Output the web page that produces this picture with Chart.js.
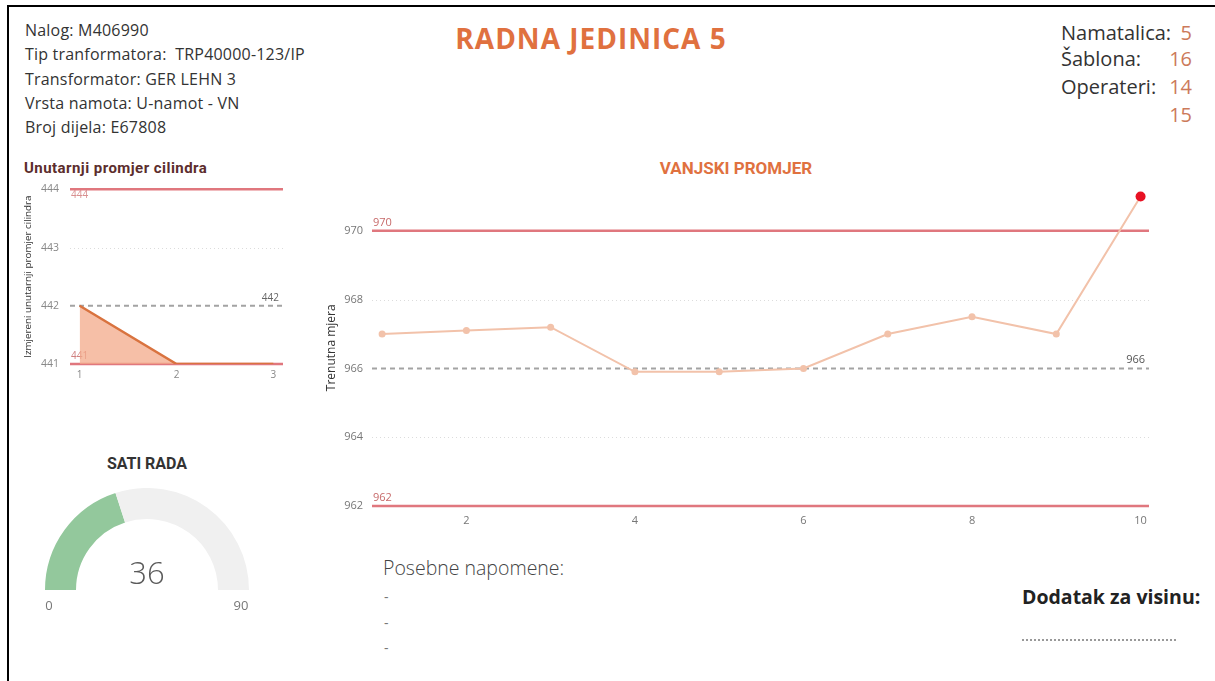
<!DOCTYPE html>
<html>
<head>
<meta charset="utf-8">
<script src="https://cdn.jsdelivr.net/npm/chart.js@4.4.0/dist/chart.umd.min.js"></script>
<style>
  body { margin: 0; width: 1215px; height: 681px; background: #fff; overflow: hidden; position: relative;
         font-family: 'Open Sans', 'Noto Sans', sans-serif; color: #333; }
  .frame { position: absolute; left: 7px; top: 5px; width: 1300px; height: 800px;
           border-left: 2px solid #000; border-top: 2px solid #000; }
  .abs { position: absolute; white-space: pre; }
  canvas { position: absolute; }
  .din { font-family: Roboto, 'DejaVu Sans', sans-serif; font-weight: 700; }
  .info { left: 25px; top: 18px; font-size: 16px; letter-spacing: 0.2px; line-height: 24.3px; color: #333; }
  .meta { font-size: 20px; line-height: 28px; color: #333; }
  .meta.val { right: 23px; text-align: right; color: #cc7a5a; }
</style>
</head>
<body>
<div class="frame"></div>

<div class="abs info">Nalog: M406990
Tip tranformatora:  TRP40000-123/IP
Transformator: GER LEHN 3
Vrsta namota: U-namot - VN
Broj dijela: E67808</div>

<div class="abs" style="left:591px;top:19px;transform:translateX(-50%);font-size:28px;letter-spacing:1px;font-weight:700;color:#e0713f;">RADNA JEDINICA 5</div>

<div class="abs meta" style="left:1061px;top:19px;">Namatalica:</div>
<div class="abs meta" style="left:1061px;top:45px;">Šablona:</div>
<div class="abs meta" style="left:1061px;top:73px;">Operateri:</div>
<div class="abs meta val" style="top:19px;">5</div>
<div class="abs meta val" style="top:45px;">16</div>
<div class="abs meta val" style="top:73px;">14</div>
<div class="abs meta val" style="top:101px;">15</div>

<div class="abs din" style="left:24px;top:159px;font-size:15px;letter-spacing:0.45px;color:#5c2d2d;">Unutarnji promjer cilindra</div>
<div class="abs din" style="left:736px;top:158px;transform:translateX(-50%);font-size:17px;color:#e0713f;">VANJSKI PROMJER</div>
<div class="abs din" style="left:147px;top:454px;transform:translateX(-50%);font-size:16px;color:#333;">SATI RADA</div>

<canvas id="unutarnji" width="271" height="214" style="left:19px;top:172px;"></canvas>
<canvas id="vanjski" width="835" height="356" style="left:320px;top:174px;"></canvas>
<canvas id="sati" width="204" height="102" style="left:45px;top:488px;"></canvas>

<div class="abs" id="satiVal" style="left:147px;top:551px;transform:translateX(-50%);font-size:31px;font-weight:300;color:#5a5a5a;"></div>
<div class="abs" id="satiMin" style="left:49px;top:596px;transform:translateX(-50%);font-size:13px;color:#777;"></div>
<div class="abs" id="satiMaxL" style="left:241px;top:596px;transform:translateX(-50%);font-size:13px;color:#777;"></div>

<div class="abs" style="left:383px;top:554px;font-size:19.5px;font-weight:300;color:#444;">Posebne napomene:</div>
<div class="abs" style="left:384px;top:584px;font-size:14px;line-height:25.5px;color:#777;">-
-
-</div>
<div class="abs" style="left:1022px;top:583px;font-size:19.5px;font-weight:700;color:#222;">Dodatak za visinu:</div>
<div class="abs" style="left:1022px;top:639px;width:154px;border-top:2px dotted #999;"></div>

<script>
// ── Data ──

const vanjskiX = [1, 2, 3, 4, 5, 6, 7, 8, 9, 10];
const vanjskiY = [967.0, 967.1, 967.2, 965.9, 965.9, 966.0, 967.0, 967.5, 967.0, 971.0];
const vanjskiXTicks = [2, 4, 6, 8, 10];
const vanjskiYTicks = [962, 964, 966, 968, 970];
const vanjskiMin = 962, vanjskiMax = 970, vanjskiNominal = 966;

const unutarnjiX = [1, 2, 3];
const unutarnjiY = [442, 441, 441];
const unutarnjiXTicks = [1, 2, 3];
const unutarnjiYTicks = [441, 442, 443, 444];
const unutarnjiMin = 441, unutarnjiMax = 444, unutarnjiNominal = 442;

const satiRada = 36;
const satiUkupno = 90;

// ── Colours ──

const RED_LINE = 'rgba(221,104,112,0.9)';
const RED_TXT = '#c76a6a';
const GRAY_DASH = '#a3a3a3';
const GRID = '#dcdcdc';
const PEACH = '#f2c2aa';
const ALERT = '#e81123';

// ── Reference lines plugin ──

const refLines = {
  id: 'refLines',
  beforeDatasetsDraw(chart, args, opts) {
    const { ctx, chartArea: a, scales: { y } } = chart;
    const taken = (opts.lines || []).map(l => l.value);
    ctx.save();
    // dotted grid for the remaining ticks
    y.ticks.forEach(t => {
      if (taken.includes(t.value)) return;
      const py = Math.round(y.getPixelForValue(t.value)) + 0.5;
      ctx.strokeStyle = GRID; ctx.lineWidth = 1; ctx.setLineDash([1, 3]);
      ctx.beginPath(); ctx.moveTo(a.left, py); ctx.lineTo(a.right, py); ctx.stroke();
    });
    (opts.lines || []).forEach(l => {
      const py = y.getPixelForValue(l.value);
      ctx.strokeStyle = l.color; ctx.lineWidth = l.width; ctx.setLineDash(l.dash || []);
      ctx.beginPath(); ctx.moveTo(a.left, py); ctx.lineTo(a.right, py); ctx.stroke();
      if (!l.label) return;
      ctx.setLineDash([]);
      ctx.font = `${opts.fontSize || 11}px 'Open Sans', sans-serif`;
      ctx.fillStyle = l.labelColor;
      const right = l.label[0] === 'r';
      ctx.textAlign = right ? 'right' : 'left';
      ctx.textBaseline = l.label[1] === 'a' ? 'bottom' : 'top';
      const lx = right ? a.right - 4 : a.left + 1;
      const ly = l.label[1] === 'a' ? py - 3 : py + 1;
      ctx.fillText(String(l.value), lx, ly);
    });
    ctx.restore();
  }
};

const fixTicks = list => scale => { scale.ticks = list.map(value => ({ value })); };
const tickFont = size => ({ family: "'Open Sans', sans-serif", size });

// ── Vanjski promjer ──

new Chart(document.getElementById('vanjski'), {
  type: 'line',
  data: {
    datasets: [{
      data: vanjskiX.map((x, i) => ({ x, y: vanjskiY[i] })),
      borderColor: PEACH,
      borderWidth: 2,
      pointBackgroundColor: vanjskiY.map(v => v > vanjskiMax || v < vanjskiMin ? ALERT : PEACH),
      pointRadius: vanjskiY.map(v => v > vanjskiMax || v < vanjskiMin ? 5 : 3.5),
      pointBorderWidth: 0,
      tension: 0,
    }],
  },
  options: {
    responsive: false, animation: false, events: [],
    layout: { padding: { top: 4, right: 6 } },
    plugins: {
      legend: { display: false }, tooltip: { enabled: false },
      refLines: {
        fontSize: 11,
        lines: [
          { value: vanjskiMax, color: RED_LINE, width: 2.5, label: 'la', labelColor: RED_TXT },
          { value: vanjskiMin, color: RED_LINE, width: 2.5, label: 'la', labelColor: RED_TXT },
          { value: vanjskiNominal, color: GRAY_DASH, width: 2, dash: [5, 4], label: 'ra', labelColor: '#555' },
        ],
      },
    },
    scales: {
      x: {
        type: 'linear', min: 0.88, max: 10.1,
        afterBuildTicks: fixTicks(vanjskiXTicks),
        afterFit: s => { s.height = 24; },
        grid: { display: false, drawTicks: false }, border: { display: false },
        ticks: { color: '#777', padding: 8, maxRotation: 0, font: tickFont(11) },
      },
      y: {
        min: 962, max: 971.2,
        afterBuildTicks: fixTicks(vanjskiYTicks),
        afterFit: s => { s.width = 52; },
        grid: { display: false, drawTicks: false }, border: { display: false },
        ticks: { color: '#777', padding: 9, font: tickFont(11) },
        title: { display: true, text: 'Trenutna mjera', color: '#333', font: tickFont(12) },
      },
    },
  },
  plugins: [refLines],
});

// ── Unutarnji promjer cilindra ──

new Chart(document.getElementById('unutarnji'), {
  type: 'line',
  data: {
    datasets: [{
      data: unutarnjiX.map((x, i) => ({ x, y: unutarnjiY[i] })),
      borderColor: '#d9733f',
      borderWidth: 2.5,
      backgroundColor: 'rgba(243,170,138,0.75)',
      fill: 'start',
      pointRadius: 0,
      tension: 0,
    }],
  },
  options: {
    responsive: false, animation: false, events: [],
    layout: { padding: { top: 6, right: 7 } },
    plugins: {
      legend: { display: false }, tooltip: { enabled: false },
      refLines: {
        fontSize: 10,
        lines: [
          { value: unutarnjiMax, color: RED_LINE, width: 2.5, label: 'lb', labelColor: '#d99090' },
          { value: unutarnjiMin, color: RED_LINE, width: 2.5, label: 'la', labelColor: '#d08080' },
          { value: unutarnjiNominal, color: GRAY_DASH, width: 2, dash: [5, 4], label: 'ra', labelColor: '#666' },
        ],
      },
    },
    scales: {
      x: {
        type: 'linear', min: 0.9, max: 3.1,
        afterBuildTicks: fixTicks(unutarnjiXTicks),
        afterFit: s => { s.height = 22; },
        grid: { display: false, drawTicks: false }, border: { display: false },
        ticks: { color: '#888', padding: 5, maxRotation: 0, font: tickFont(10) },
      },
      y: {
        min: 441, max: 444,
        afterBuildTicks: fixTicks(unutarnjiYTicks),
        afterFit: s => { s.width = 51; },
        grid: { display: false, drawTicks: false }, border: { display: false },
        ticks: { color: '#888', padding: 11, font: tickFont(10.5) },
        title: { display: true, text: 'Izmjereni unutarnji promjer cilindra', color: '#333', font: tickFont(9.8), padding: { top: 3, bottom: 2 } },
      },
    },
  },
  plugins: [refLines],
});

// ── Sati rada (gauge) ──

new Chart(document.getElementById('sati'), {
  type: 'doughnut',
  data: {
    labels: ['Sati rada', 'Preostalo'],
    datasets: [{
      data: [satiRada, satiUkupno - satiRada],
      backgroundColor: ['#93c89c', '#f0f0f0'],
      borderWidth: 0,
    }],
  },
  options: {
    responsive: false, animation: false, events: [],
    rotation: -90, circumference: 180, cutout: '69.6%',
    plugins: { legend: { display: false }, tooltip: { enabled: false } },
  },
});

document.getElementById('satiVal').textContent = satiRada;
document.getElementById('satiMin').textContent = 0;
document.getElementById('satiMaxL').textContent = satiUkupno;
</script>
</body>
</html>
